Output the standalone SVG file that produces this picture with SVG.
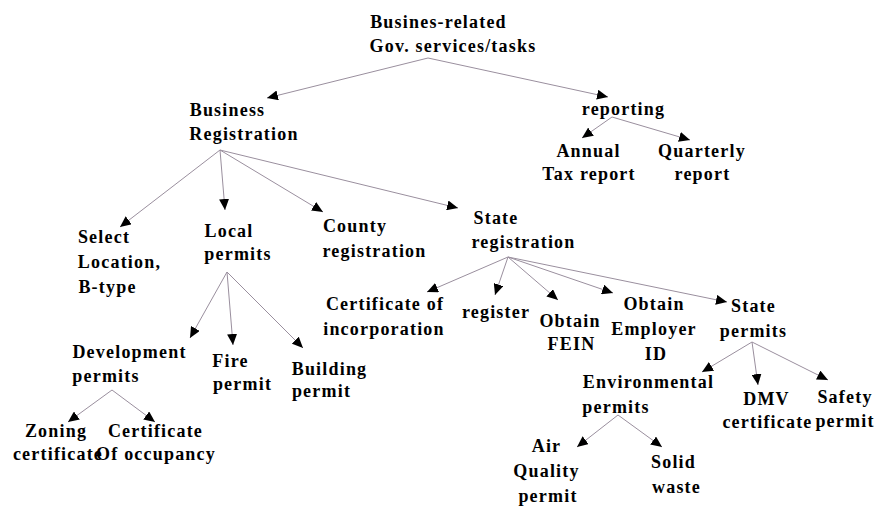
<svg xmlns="http://www.w3.org/2000/svg" width="877" height="507" viewBox="0 0 877 507">
<style>
.t text{font-family:'Liberation Serif',serif;font-weight:700;font-size:18px;letter-spacing:1.2px;fill:#000;text-anchor:middle}
.c line{stroke:#9a8f9e;stroke-width:1;marker-end:url(#ah)}
</style>
<defs>
<marker id="ah" markerUnits="userSpaceOnUse" markerWidth="12" markerHeight="10" refX="11" refY="5" orient="auto">
<path d="M0,0 L11,5 L0,10 Z" fill="#000"/>
</marker>
</defs>
<rect width="877" height="507" fill="#fff"/>
<g class="c" id="connectors">
<line x1="428" y1="58" x2="267" y2="98"/>
<line x1="428" y1="58" x2="608" y2="97"/>
<line x1="612" y1="117" x2="582" y2="138"/>
<line x1="612" y1="117" x2="690" y2="140"/>
<line x1="220" y1="150" x2="120" y2="227"/>
<line x1="220" y1="150" x2="225" y2="210"/>
<line x1="220" y1="150" x2="323" y2="212"/>
<line x1="220" y1="150" x2="458" y2="208"/>
<line x1="508" y1="257" x2="427" y2="292"/>
<line x1="508" y1="257" x2="495" y2="295"/>
<line x1="508" y1="257" x2="558" y2="300"/>
<line x1="508" y1="257" x2="613" y2="293"/>
<line x1="508" y1="257" x2="727" y2="302"/>
<line x1="227" y1="272" x2="190" y2="338"/>
<line x1="227" y1="272" x2="233" y2="345"/>
<line x1="227" y1="272" x2="303" y2="348"/>
<line x1="112" y1="390" x2="68" y2="422"/>
<line x1="112" y1="390" x2="155" y2="422"/>
<line x1="752" y1="342" x2="702" y2="372"/>
<line x1="752" y1="342" x2="758" y2="385"/>
<line x1="752" y1="342" x2="828" y2="380"/>
<line x1="618" y1="415" x2="577" y2="447"/>
<line x1="618" y1="415" x2="662" y2="447"/>
</g>
<g class="t" font-family="Liberation Serif" font-weight="bold">
<g id="root"><text x="438.5" y="28">Busines-related</text><text x="453" y="52">Gov. services/tasks</text></g>
<g id="business-registration"><text x="227.5" y="116">Business</text><text x="244" y="140">Registration</text></g>
<g id="reporting"><text x="623.5" y="115">reporting</text></g>
<g id="annual"><text x="588.5" y="157">Annual</text><text x="589" y="180">Tax report</text></g>
<g id="quarterly"><text x="702" y="157">Quarterly</text><text x="702.5" y="180">report</text></g>
<g id="select"><text x="104" y="243">Select</text><text x="119.5" y="268">Location,</text><text x="107.5" y="293">B-type</text></g>
<g id="local"><text x="229" y="237">Local</text><text x="238" y="260">permits</text></g>
<g id="county"><text x="355" y="232">County</text><text x="374.5" y="257">registration</text></g>
<g id="state-reg"><text x="496" y="224">State</text><text x="523.5" y="248">registration</text></g>
<g id="cert-inc"><text x="385" y="310">Certificate of</text><text x="384" y="335">incorporation</text></g>
<g id="register"><text x="496" y="318">register</text></g>
<g id="fein"><text x="570" y="327">Obtain</text><text x="571.5" y="350">FEIN</text></g>
<g id="employer"><text x="654" y="310">Obtain</text><text x="654" y="335">Employer</text><text x="656" y="360">ID</text></g>
<g id="state-permits"><text x="753.5" y="312">State</text><text x="753.5" y="337">permits</text></g>
<g id="development"><text x="129.5" y="358">Development</text><text x="106" y="382">permits</text></g>
<g id="fire"><text x="230.5" y="367">Fire</text><text x="242.5" y="390">permit</text></g>
<g id="building"><text x="329.5" y="375">Building</text><text x="321.5" y="397">permit</text></g>
<g id="zoning"><text x="56" y="437">Zoning</text><text x="58" y="460">certificate</text></g>
<g id="occupancy"><text x="155.5" y="437">Certificate</text><text x="156" y="460">Of occupancy</text></g>
<g id="environmental"><text x="648.5" y="388">Environmental</text><text x="616" y="413">permits</text></g>
<g id="dmv"><text x="766.5" y="405">DMV</text><text x="767.5" y="428">certificate</text></g>
<g id="safety"><text x="845" y="403">Safety</text><text x="845" y="427">permit</text></g>
<g id="air"><text x="546.5" y="452">Air</text><text x="546.5" y="477">Quality</text><text x="548" y="502">permit</text></g>
<g id="solid"><text x="673.5" y="468">Solid</text><text x="676.5" y="493">waste</text></g>
</g>
</svg>
